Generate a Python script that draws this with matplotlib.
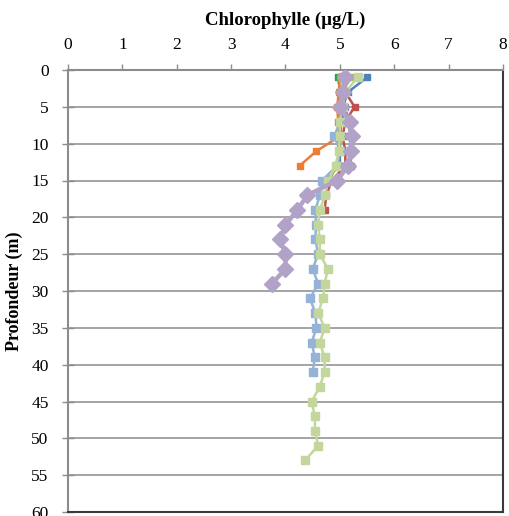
import matplotlib
matplotlib.use("Agg")
import matplotlib.pyplot as plt

# Chlorophyll profiles (ug/L) sampled every 2 m from 1 m depth
depth_blue = [1, 3, 5, 7, 9, 11, 13, 15]
chl_blue = [5.5, 5.15, 5.05, 5.05, 4.95, 5.0, 5.0, 4.7]

depth_red = [1, 3, 5, 7, 9, 11, 13, 15, 17, 19]
chl_red = [5.05, 5.1, 5.27, 5.1, 5.05, 5.1, 5.1, 4.85, 4.75, 4.72]

depth_green = [1, 3, 5, 7, 9, 11, 13, 15]
chl_green = [5.2, 5.05, 5.0, 5.0, 5.02, 5.0, 4.95, 4.8]

depth_purple = [1, 3, 5, 7, 9, 11, 13]
chl_purple = [5.1, 5.05, 5.1, 5.15, 5.2, 5.2, 5.2]

depth_bgreen = [1, 3, 5, 7, 9]
chl_bgreen = [4.97, 5.0, 5.0, 5.02, 5.0]

depth_orange = [1, 3, 5, 7, 9, 11, 13]
chl_orange = [5.0, 4.98, 4.95, 4.97, 5.0, 4.57, 4.26]

depth_lblue = [1, 3, 5, 7, 9, 11, 13, 15, 17, 19, 21, 23, 25, 27, 29, 31, 33, 35, 37, 39, 41]
chl_lblue = [5.05, 5.05, 5.05, 5.0, 4.9, 5.0, 4.95, 4.67, 4.63, 4.55, 4.56, 4.55, 4.6, 4.5,
             4.6, 4.45, 4.55, 4.57, 4.48, 4.54, 4.5]

depth_lgreen = [1, 3, 5, 7, 9, 11, 13, 15, 17, 19, 21, 23, 25, 27, 29, 31, 33, 35, 37, 39,
                41, 43, 45, 47, 49, 51, 53]
chl_lgreen = [5.33, 5.1, 5.05, 5.0, 5.0, 4.98, 4.92, 4.78, 4.73, 4.63, 4.6, 4.63, 4.63, 4.78,
              4.72, 4.69, 4.6, 4.72, 4.63, 4.72, 4.72, 4.63, 4.48, 4.54, 4.54, 4.6, 4.36]

depth_lav = [1, 3, 5, 7, 9, 11, 13, 15, 17, 19, 21, 23, 25, 27, 29]
chl_lav = [5.1, 5.05, 5.0, 5.18, 5.22, 5.2, 5.15, 4.95, 4.4, 4.22, 4.0, 3.9, 4.0, 4.0, 3.75]

serif = "Liberation Serif"
fig = plt.figure(figsize=(5.1, 5.16), dpi=100)
ax = fig.add_axes([68 / 510, 1 - 512 / 516, 435 / 510, 442 / 516])

#series drawn in order, lavender diamonds on top
ax.plot(chl_blue, depth_blue, color="#4F81BD", lw=1.8, marker="s", ms=5, zorder=3)
ax.plot(chl_red, depth_red, color="#C0504D", lw=1.8, marker="s", ms=5, zorder=3)
ax.plot(chl_green, depth_green, color="#9BBB59", lw=1.8, marker="s", ms=5, zorder=3)
ax.plot(chl_purple, depth_purple, color="#8064A2", lw=1.8, marker="s", ms=5, zorder=3)
ax.plot(chl_bgreen, depth_bgreen, color="#00B050", lw=1.8, marker="s", ms=5, zorder=3)
ax.plot(chl_orange, depth_orange, color="#EB7D35", lw=1.8, marker="s", ms=5, zorder=3)
ax.plot(chl_lblue, depth_lblue, color="#95B3D7", lw=1.8, marker="s", ms=5.5, zorder=4)
ax.plot(chl_lgreen, depth_lgreen, color="#C3D69B", lw=1.8, marker="s", ms=5.5, zorder=4)
ax.plot(chl_lav, depth_lav, color="#B3A2C7", lw=3.2, marker="D", ms=8, zorder=5)

ax.set_xlim(0, 8)
ax.set_ylim(60, 0)
ax.set_xticks(range(0, 9))
ax.set_yticks(range(0, 61, 5))
ax.xaxis.tick_top()
ax.xaxis.set_label_position("top")
ax.yaxis.grid(True, color="#8C8C8C", lw=1.1)
ax.set_axisbelow(True)

ax.tick_params(axis="x", direction="out", length=4, width=1, color="#8C8C8C",
               labelsize=12.5, pad=8)
ax.tick_params(axis="y", direction="inout", length=8, width=1, color="#8C8C8C",
               labelsize=12.5, pad=10)
for lab in ax.get_xticklabels() + ax.get_yticklabels():
    lab.set_fontfamily(serif)

ax.spines["left"].set_color("#8C8C8C")
ax.spines["top"].set_color("#8C8C8C")
ax.spines["right"].set_color("#3A3A3A")
ax.spines["bottom"].set_color("#3A3A3A")
for s in ax.spines.values():
    s.set_linewidth(1.5)

ax.set_xlabel("Chlorophylle (µg/L)", fontsize=13.5, fontweight="bold", family=serif, labelpad=9)
ax.set_ylabel("Profondeur (m)", fontsize=13, fontweight="bold", family=serif, labelpad=6)

fig.savefig("out.png", dpi=100)
